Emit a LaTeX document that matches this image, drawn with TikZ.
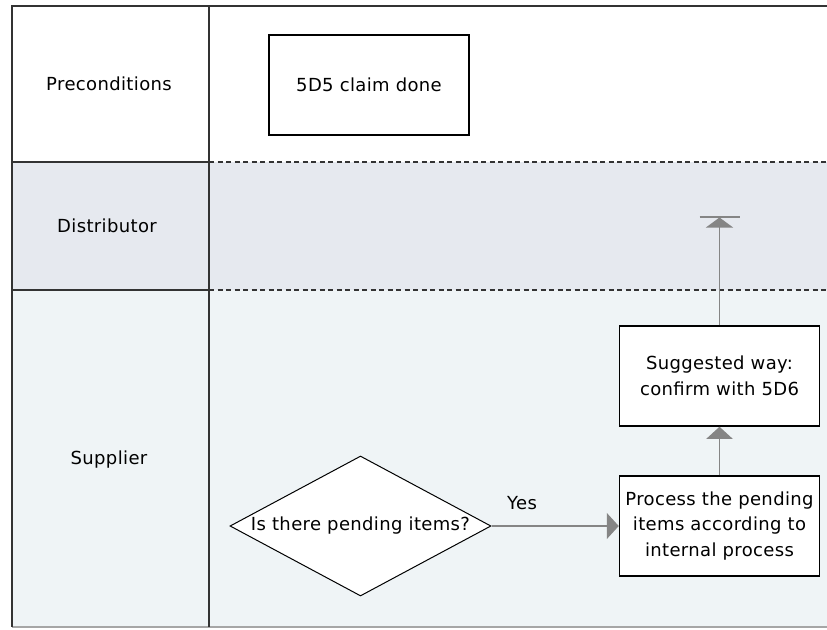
\documentclass[tikz,border=0pt]{standalone}
\usepackage{fontspec}
\setmainfont[LetterSpace=2]{DejaVu Sans}
\usetikzlibrary{arrows.meta, shapes.geometric}
\definecolor{distfill}{HTML}{E6E9EF}
\definecolor{suppfill}{HTML}{EFF4F6}
\definecolor{framegray}{HTML}{333333}
\definecolor{arrowgray}{HTML}{858585}

\begin{document}
\begin{tikzpicture}[
  x=1pt, y=-1pt,
  font=\fontsize{18}{25.5}\selectfont,
  >=Latex,
  lane/.style={draw=framegray, line width=1.6pt},
  lanesep/.style={draw=framegray, line width=1.5pt, dash pattern=on 5pt off 3.5pt},
  box/.style={draw=black, line width=1.5pt, fill=white, align=center,
    minimum width=200pt, minimum height=100pt, inner sep=2pt},
  decision/.style={diamond, draw=black, line width=1pt, fill=white,
    minimum width=261pt, minimum height=140pt, inner sep=0pt, aspect=1.9},
  flow/.style={draw=arrowgray, line width=1.5pt, -{Triangle[length=12pt, width=26pt]}},
  flowend/.style={draw=arrowgray, line width=1.5pt,
    -{Triangle[length=10pt, width=27pt] Bar[width=40pt]}},
  lanelabel/.style={align=center},
]
  \useasboundingbox (0,0) rectangle (827,629);
  \fill[white] (0,0) rectangle (827,629);
  \fill[distfill] (12,162) rectangle (827,290);
  \fill[suppfill] (12,290) rectangle (827,627);
  \draw[draw=gray!70, line width=1.5pt] (12,627) -- (827,627);

  \draw[lane] (827,6) -- (12,6) -- (12,627);
  \draw[lane] (209,6) -- (209,627);
  \draw[lane] (12,162) -- (209,162);
  \draw[lane] (12,290) -- (209,290);
  \draw[lanesep] (209,162) -- (827,162);
  \draw[lanesep] (209,290) -- (827,290);

  \node[lanelabel] (pre) at (109,84) {Preconditions};
  \node[lanelabel] (dist) at (107,226) {Distributor};
  \node[lanelabel] (supp) at (109,460) {Supplier};

  \node[box] (claim) at (369,85) {5D5 claim done};
  \node[box] (suggest) at (719.5,376) {Suggested way:\\confirm with 5D6};
  \node[box] (pending) at (719.5,526) {Process the pending\\items according to\\internal process};
  \node[decision] (ask) at (360.5,526) {Is there pending items?};
  \coordinate (exit) at (719.5,216);

  \draw[flow] (ask) -- node[pos=0.24, above=12pt] {Yes} (pending);
  \draw[flow] (pending) -- (suggest);
  \draw[flowend] (suggest) -- (exit);
\end{tikzpicture}
\end{document}
